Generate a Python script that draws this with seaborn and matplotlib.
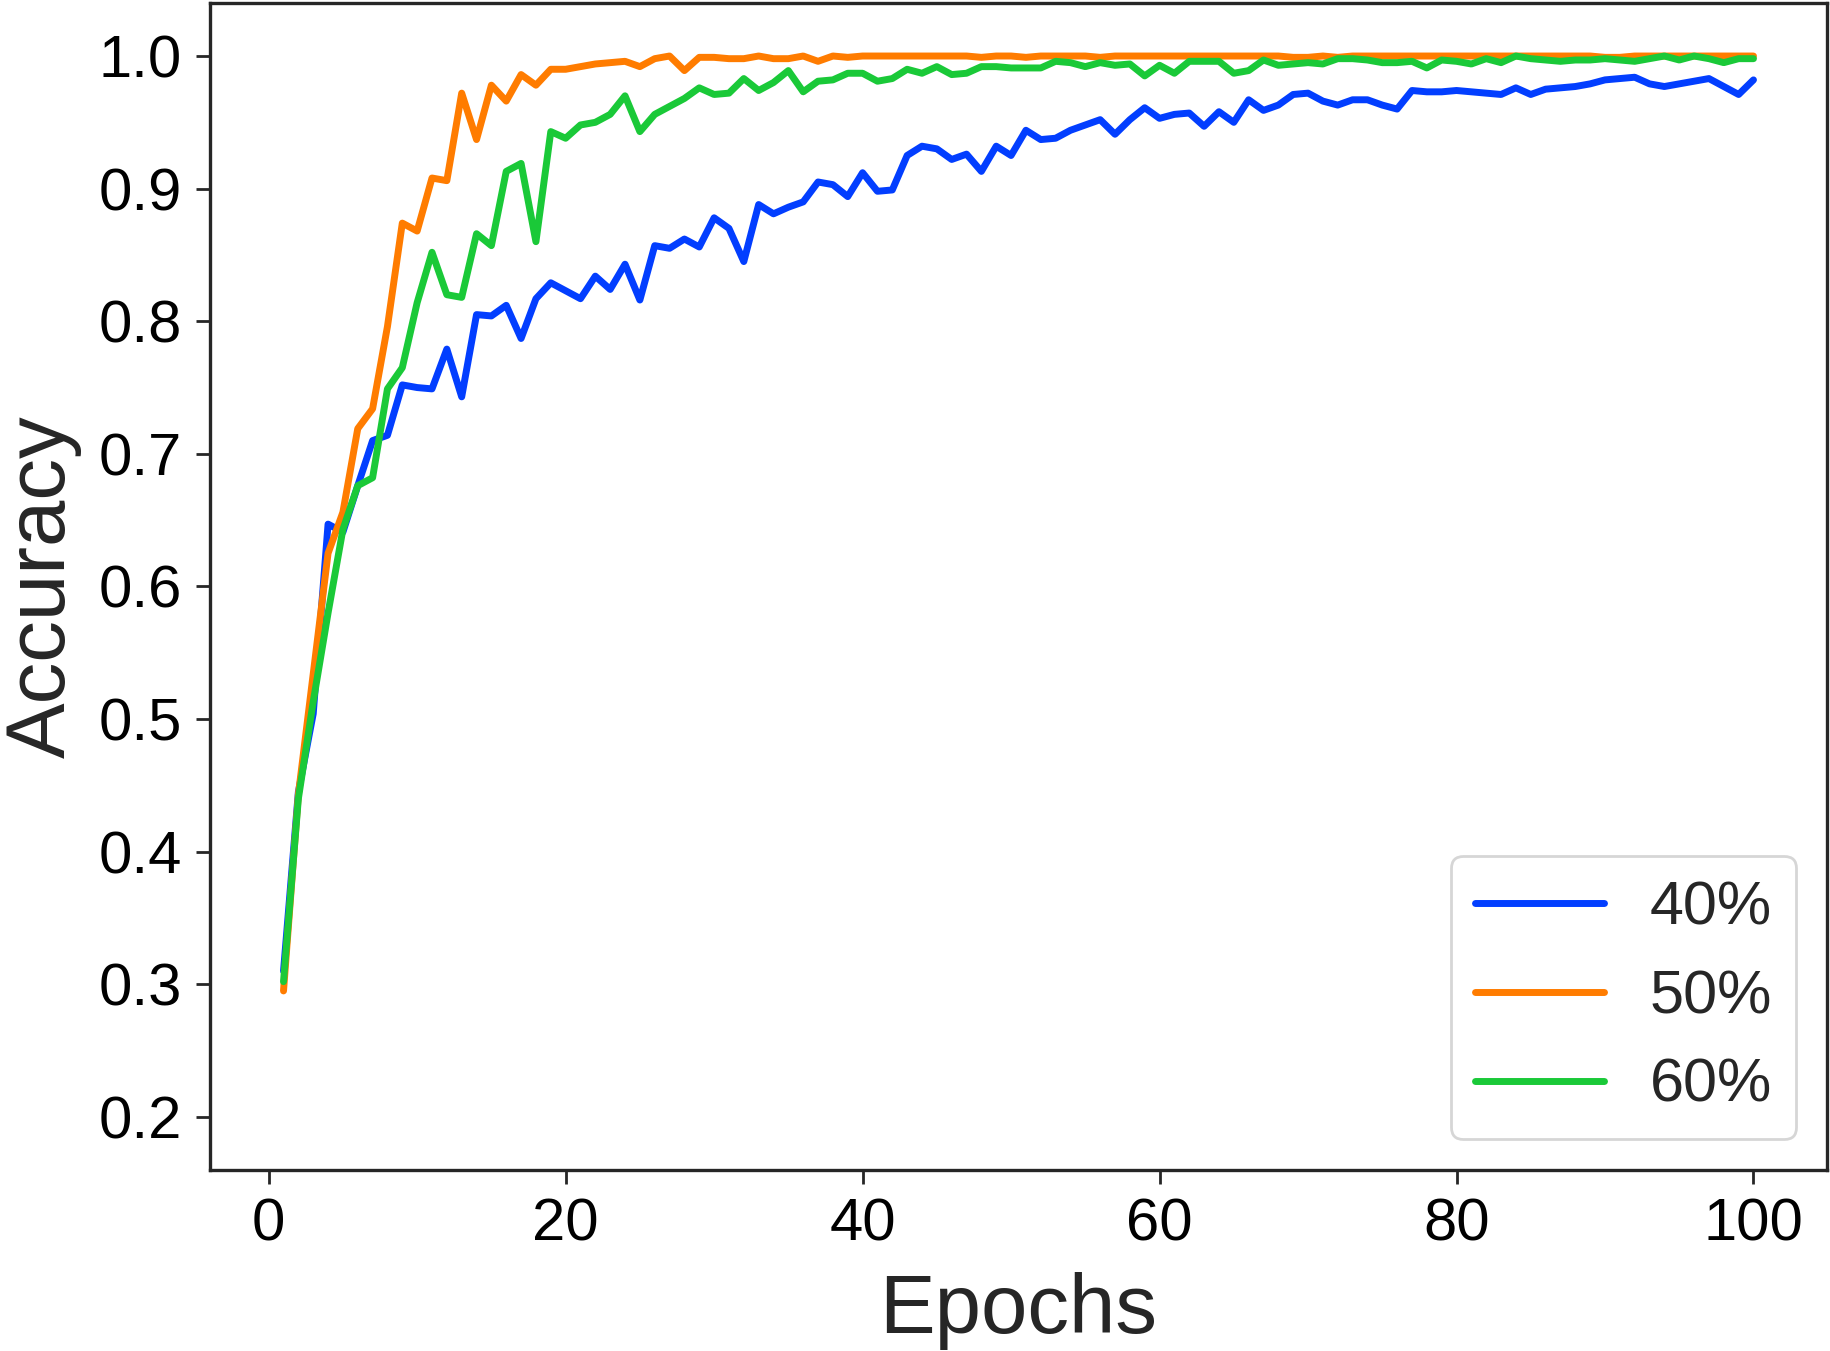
import numpy as np
import pandas as pd
import seaborn as sns
import matplotlib
matplotlib.use("Agg")
import matplotlib.pyplot as plt

epochs = list(range(1, 101))

acc_40 = [0.310, 0.445, 0.504, 0.647, 0.641, 0.676, 0.710, 0.714, 0.752, 0.750,
          0.749, 0.779, 0.743, 0.805, 0.804, 0.812, 0.787, 0.817, 0.829, 0.823,
          0.817, 0.834, 0.824, 0.843, 0.816, 0.857, 0.855, 0.862, 0.856, 0.878,
          0.870, 0.845, 0.888, 0.881, 0.886, 0.890, 0.905, 0.903, 0.894, 0.912,
          0.898, 0.899, 0.925, 0.932, 0.930, 0.922, 0.926, 0.913, 0.932, 0.925,
          0.944, 0.937, 0.938, 0.944, 0.948, 0.952, 0.941, 0.952, 0.961, 0.953,
          0.956, 0.957, 0.947, 0.958, 0.950, 0.967, 0.959, 0.963, 0.971, 0.972,
          0.966, 0.963, 0.967, 0.967, 0.963, 0.960, 0.974, 0.973, 0.973, 0.974,
          0.973, 0.972, 0.971, 0.976, 0.971, 0.975, 0.976, 0.977, 0.979, 0.982,
          0.983, 0.984, 0.979, 0.977, 0.979, 0.981, 0.983, 0.977, 0.971, 0.982]

acc_50 = [0.295, 0.443, 0.534, 0.625, 0.656, 0.719, 0.734, 0.796, 0.874, 0.868,
          0.908, 0.906, 0.972, 0.937, 0.978, 0.966, 0.986, 0.978, 0.990, 0.990,
          0.992, 0.994, 0.995, 0.996, 0.992, 0.998, 1.000, 0.989, 0.999, 0.999,
          0.998, 0.998, 1.000, 0.998, 0.998, 1.000, 0.996, 1.000, 0.999, 1.000,
          1.000, 1.000, 1.000, 1.000, 1.000, 1.000, 1.000, 0.999, 1.000, 1.000,
          0.999, 1.000, 1.000, 1.000, 1.000, 0.999, 1.000, 1.000, 1.000, 1.000,
          1.000, 1.000, 1.000, 1.000, 1.000, 1.000, 1.000, 1.000, 0.999, 0.999,
          1.000, 0.999, 1.000, 1.000, 1.000, 1.000, 1.000, 1.000, 1.000, 1.000,
          1.000, 1.000, 1.000, 1.000, 1.000, 1.000, 1.000, 1.000, 1.000, 0.999,
          0.999, 1.000, 1.000, 1.000, 1.000, 1.000, 1.000, 1.000, 1.000, 1.000]

acc_60 = [0.302, 0.440, 0.513, 0.580, 0.643, 0.676, 0.682, 0.749, 0.765, 0.814,
          0.852, 0.820, 0.818, 0.866, 0.857, 0.913, 0.919, 0.860, 0.943, 0.938,
          0.948, 0.950, 0.956, 0.970, 0.943, 0.956, 0.962, 0.968, 0.976, 0.971,
          0.972, 0.983, 0.974, 0.980, 0.989, 0.973, 0.981, 0.982, 0.987, 0.987,
          0.981, 0.983, 0.990, 0.987, 0.992, 0.986, 0.987, 0.992, 0.992, 0.991,
          0.991, 0.991, 0.996, 0.995, 0.992, 0.995, 0.993, 0.994, 0.985, 0.993,
          0.987, 0.996, 0.996, 0.996, 0.987, 0.989, 0.997, 0.993, 0.994, 0.995,
          0.994, 0.998, 0.998, 0.997, 0.995, 0.995, 0.996, 0.991, 0.997, 0.996,
          0.994, 0.998, 0.995, 1.000, 0.998, 0.997, 0.996, 0.997, 0.997, 0.998,
          0.997, 0.996, 0.998, 1.000, 0.997, 1.000, 0.998, 0.995, 0.998, 0.998]

labels = ["40%", "50%", "60%"]
colors = ["#023eff", "#ff7c00", "#1ac938"]

sns.set_theme(style="ticks")
plt.rcParams["font.family"] = ["Liberation Sans", "DejaVu Sans"]

fig = plt.figure(figsize=(9.155, 6.755), dpi=200)
ax = fig.add_axes([0.1147, 0.134, 0.8831, 0.8638])

for acc, lab, col in zip([acc_40, acc_50, acc_60], labels, colors):
    sns.lineplot(x=epochs, y=acc, color=col, label=lab, linewidth=2.5, ax=ax)

ax.set_ylim(0.16, 1.04)
ax.set_yticks([0.2, 0.3, 0.4, 0.5, 0.6, 0.7, 0.8, 0.9, 1.0])
ax.set_xticks([0, 20, 40, 60, 80, 100])
ax.set_xlabel("Epochs", fontsize=30, color="#262626", labelpad=7)
ax.set_ylabel("Accuracy", fontsize=30, color="#262626", labelpad=6)
ax.tick_params(axis="both", labelsize=21.5, length=5, width=1.0, pad=5, colors="#262626")
ax.tick_params(axis="both", labelcolor="black")
for sp in ax.spines.values():
    sp.set_linewidth(1.2)
    sp.set_color("#262626")

ax.legend(loc="lower right", fontsize=22, handlelength=2.1, handletextpad=0.75,
          labelspacing=0.52, borderpad=0.4)

fig.savefig("out.png", dpi=200)
